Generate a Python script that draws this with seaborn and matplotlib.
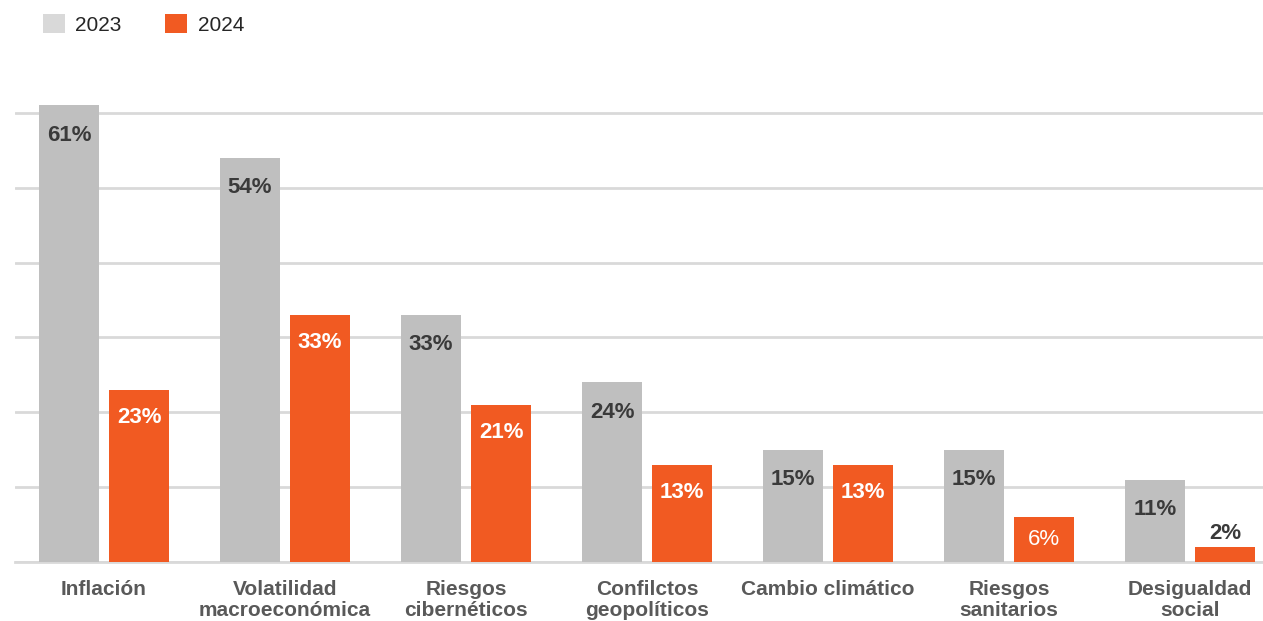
import matplotlib
matplotlib.use("Agg")
import matplotlib.pyplot as plt
from matplotlib.patches import Patch
import seaborn as sns
import pandas as pd

# Data
categories = ["Inflación", "Volatilidad\nmacroeconómica", "Riesgos\ncibernéticos",
              "Confilctos\ngeopolíticos", "Cambio climático", "Riesgos\nsanitarios",
              "Desigualdad\nsocial"]
years = ["2023", "2024"]
values_2023 = [61, 54, 33, 24, 15, 15, 11]
values_2024 = [23, 33, 21, 13, 13, 6, 2]

colors = {"2023": "#bfbfbf", "2024": "#f15a22"}
legend_colors = {"2023": "#d9d9d9", "2024": "#f15a22"}

df = pd.DataFrame({
    "categoria": categories * 2,
    "anio": ["2023"] * len(categories) + ["2024"] * len(categories),
    "valor": values_2023 + values_2024,
})

sns.set_style("white")
plt.rcParams["font.family"] = ["Liberation Sans", "DejaVu Sans"]

W, H, DPI = 1263, 621, 100
fig = plt.figure(figsize=(W / DPI, H / DPI), dpi=DPI)
ax = fig.add_axes([15 / W, (H - 562) / H, (W - 15) / W, (562 - 38) / H])

sns.barplot(data=df, x="categoria", y="valor", hue="anio", order=categories,
            hue_order=years, palette=colors, width=0.773, gap=0.145,
            linewidth=0, saturation=1, legend=False, ax=ax, zorder=3)

ax.set_xlim(-0.492, 6.403)
ax.set_ylim(0, 70)
ax.set_yticks(range(0, 61, 10))
ax.yaxis.grid(True, color="#d9d9d9", linewidth=2, zorder=0)
ax.set_axisbelow(True)
ax.tick_params(axis="y", left=False, labelleft=False)
ax.tick_params(axis="x", bottom=False, pad=9.5)
for lbl in ax.get_xticklabels():
    lbl.set_fontsize(15)
    lbl.set_fontweight("bold")
    lbl.set_color("#595959")
    lbl.set_linespacing(1.13)
ax.set_xlabel("")
ax.set_ylabel("")
for side in ["top", "right", "left"]:
    ax.spines[side].set_visible(False)
ax.spines["bottom"].set_color("#d9d9d9")
ax.spines["bottom"].set_linewidth(2)

# Value labels
value_sets = {"2023": values_2023, "2024": values_2024}
for year, container in zip(years, ax.containers):
    for bar, v in zip(container, value_sets[year]):
        x = bar.get_x() + bar.get_width() / 2
        if year == "2023":
            ax.annotate(f"{v}%", (x, v), xytext=(0, -21.5), textcoords="offset points",
                        ha="center", va="center", fontsize=16, fontweight="bold",
                        color="#3a3a3a", zorder=4)
        elif v >= 10:
            ax.annotate(f"{v}%", (x, v), xytext=(0, -20), textcoords="offset points",
                        ha="center", va="center", fontsize=16, fontweight="bold",
                        color="white", zorder=4)
        elif v >= 5:
            ax.annotate(f"{v}%", (x, v), xytext=(0, -16), textcoords="offset points",
                        ha="center", va="center", fontsize=16,
                        color="white", zorder=4)
        else:
            ax.annotate(f"{v}%", (x, v), xytext=(0, 10), textcoords="offset points",
                        ha="center", va="center", fontsize=16, fontweight="bold",
                        color="#3a3a3a", zorder=4)

handles = [Patch(facecolor=legend_colors[y], edgecolor="none", label=y) for y in years]
fig.legend(handles=handles, loc="upper left", bbox_to_anchor=(43 / W, 1 - 14 / H),
           ncol=2, frameon=False, fontsize=15, handlelength=1.05, handleheight=1.05,
           handletextpad=0.5, columnspacing=2.1, borderpad=0, borderaxespad=0)

fig.savefig("out.png", dpi=DPI)
